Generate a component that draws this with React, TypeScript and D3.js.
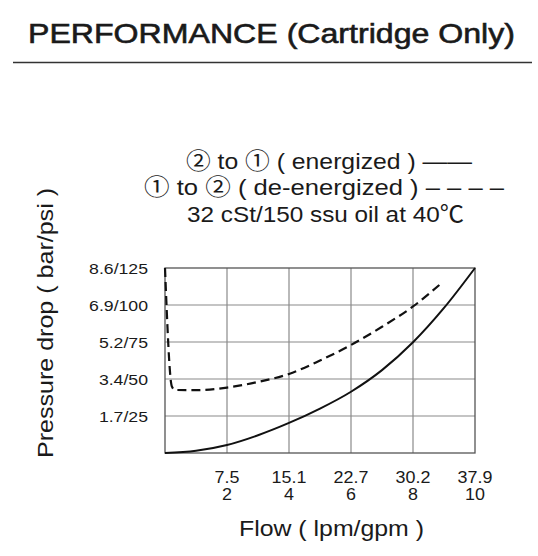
import React, { useRef, useEffect } from 'react';
import * as d3 from 'd3';

// flow in gpm, pressure drop in psi
const energizedGpm = [0, 1, 2, 3, 4, 5, 6, 7, 8, 9, 10];
const energizedPsi = [0, 1.5, 5.4, 12, 20.3, 30, 41.4, 56, 74.8, 98, 125];

const deEnergizedGpm = [0, 0.22, 0.32, 1, 2, 3, 4, 5, 6, 7, 8, 8.85];
const deEnergizedPsi = [125, 45, 42.6, 42.5, 44.2, 48, 53.4, 62.5, 73, 85.3, 99, 113.5];

const xTickGpm = [2, 4, 6, 8, 10];
const xTickLpm = ['7.5', '15.1', '22.7', '30.2', '37.9'];
const yTickPsi = [25, 50, 75, 100, 125];
const yTickBar = ['1.7', '3.4', '5.2', '6.9', '8.6'];

const titleText = 'PERFORMANCE (Cartridge Only)';
const legendLines = [
  '② to ① ( energized ) ——',
  '① to ② ( de-energized ) – – – –',
  '32 cSt/150 ssu oil at 40℃',
];
const xTitle = 'Flow ( lpm/gpm )';
const yTitle = 'Pressure drop ( bar/psi )';

const App = () => {
  const svgRef = useRef(null);

  useEffect(() => {
    const svg = d3.select(svgRef.current);
    svg.selectAll('*').remove();

    const margin = { top: 268, right: 63, bottom: 103, left: 165 };
    const width = 538 - margin.left - margin.right;
    const height = 556 - margin.top - margin.bottom;

    const x = d3.scaleLinear().domain([0, 10]).range([margin.left, margin.left + width]);
    const y = d3.scaleLinear().domain([0, 125]).range([margin.top + height, margin.top]);

    // title + rule
    svg.append('text')
      .attr('x', 28).attr('y', 43)
      .attr('font-size', 27.5)
      .attr('textLength', 487).attr('lengthAdjust', 'spacingAndGlyphs')
      .attr('fill', '#1a1a1a')
      .attr('stroke', '#1a1a1a').attr('stroke-width', 0.6)
      .text(titleText);

    svg.append('line')
      .attr('x1', 13).attr('x2', 532)
      .attr('y1', 62.5).attr('y2', 62.5)
      .attr('stroke', '#333').attr('stroke-width', 1.5);

    // legend text block
    const legendPos = [
      { x: 186, y: 169, len: 286 },
      { x: 144, y: 195, len: 360 },
      { x: 187, y: 222, len: 277 },
    ];
    legendLines.forEach((t, i) => {
      svg.append('text')
        .attr('x', legendPos[i].x).attr('y', legendPos[i].y)
        .attr('font-size', 22.5)
        .attr('textLength', legendPos[i].len).attr('lengthAdjust', 'spacingAndGlyphs')
        .attr('fill', '#1a1a1a')
        .text(t);
    });

    // grid
    const grid = svg.append('g').attr('stroke', '#8a8a8a').attr('stroke-width', 1.2);
    xTickGpm.filter(v => v < 10).forEach(v => {
      grid.append('line')
        .attr('x1', x(v)).attr('x2', x(v))
        .attr('y1', y(125)).attr('y2', y(0));
    });
    yTickPsi.filter(v => v < 125).forEach(v => {
      grid.append('line')
        .attr('x1', x(0)).attr('x2', x(10))
        .attr('y1', y(v)).attr('y2', y(v));
    });

    svg.append('rect')
      .attr('x', x(0)).attr('y', y(125))
      .attr('width', width).attr('height', height)
      .attr('fill', 'none')
      .attr('stroke', '#555').attr('stroke-width', 1.3);

    // tick labels (font is a bit wider than Arial in the original)
    const stretch = 1.12;
    xTickGpm.forEach((v, i) => {
      const tg = svg.append('g')
        .attr('transform', `translate(${x(v)},0) scale(${stretch},1)`)
        .attr('font-size', 16).attr('fill', '#1a1a1a').attr('text-anchor', 'middle');
      tg.append('text').attr('x', 0).attr('y', y(0) + 30).text(xTickLpm[i]);
      tg.append('text').attr('x', 0).attr('y', y(0) + 47).text(v);
    });

    yTickPsi.forEach((v, i) => {
      svg.append('g')
        .attr('transform', `translate(148,${y(v)}) scale(1.14,1)`)
        .append('text')
        .attr('text-anchor', 'end')
        .attr('dy', '0.36em')
        .attr('font-size', 15.5)
        .attr('fill', '#1a1a1a')
        .text(`${yTickBar[i]}/${v}`);
    });

    // axis titles
    svg.append('text')
      .attr('x', 239).attr('y', 536)
      .attr('font-size', 22)
      .attr('textLength', 185).attr('lengthAdjust', 'spacingAndGlyphs')
      .attr('fill', '#1a1a1a')
      .text(xTitle);

    svg.append('text')
      .attr('transform', 'translate(53,458) rotate(-90)')
      .attr('font-size', 22)
      .attr('textLength', 270).attr('lengthAdjust', 'spacingAndGlyphs')
      .attr('fill', '#1a1a1a')
      .text(yTitle);

    // curves
    const line = d3.line()
      .x(d => x(d[0]))
      .y(d => y(d[1]))
      .curve(d3.curveMonotoneX);

    svg.append('path')
      .datum(energizedGpm.map((g, i) => [g, energizedPsi[i]]))
      .attr('fill', 'none')
      .attr('stroke', '#111')
      .attr('stroke-width', 2)
      .attr('d', line);

    svg.append('path')
      .datum(deEnergizedGpm.map((g, i) => [g, deEnergizedPsi[i]]))
      .attr('fill', 'none')
      .attr('stroke', '#111')
      .attr('stroke-width', 2.2)
      .attr('stroke-dasharray', '9,5')
      .attr('d', line);
  }, []);

  return (
    <svg
      ref={svgRef}
      width={538}
      height={556}
      fontFamily="'Liberation Sans', Arial, 'Noto Sans CJK SC', sans-serif"
      style={{ position: 'absolute', left: 0, top: 0, background: '#fff' }}
    ></svg>
  );
};

export default App;
